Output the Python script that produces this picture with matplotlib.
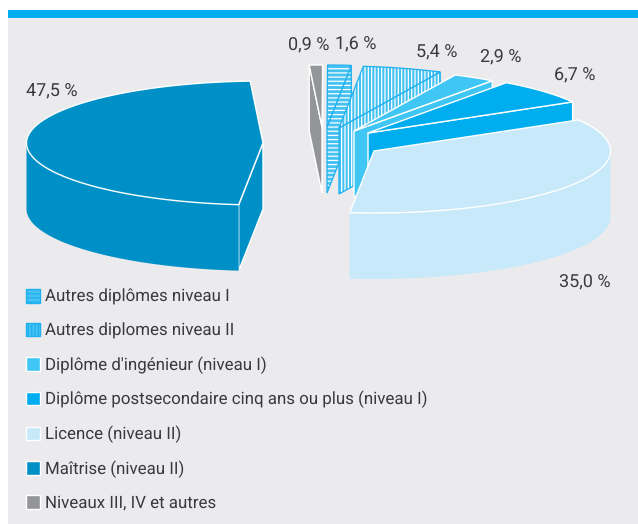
import numpy as np
import matplotlib
matplotlib.use('Agg')
import matplotlib.pyplot as plt
from matplotlib.patches import Polygon, Patch, Rectangle

# data, in pie order (anticlockwise from the top of the big slice)
categories = ['Maîtrise (niveau II)', 'Licence (niveau II)',
              'Diplôme postsecondaire cinq ans ou plus (niveau I)',
              "Diplôme d'ingénieur (niveau I)", 'Autres diplomes niveau II',
              'Autres diplômes niveau I', 'Niveaux III, IV et autres']
values = [47.5, 35.0, 6.7, 2.9, 5.4, 1.6, 0.9]
value_labels = ['47,5 %', '35,0 %', '6,7 %', '2,9 %', '5,4 %', '1,6 %', '0,9 %']
legend_order = [5, 4, 3, 2, 1, 0, 6]

# styles and layout, in pixels
colors = ['#0090C8', '#C7E9FA', '#00AEEF', '#40C6F4', '#45C1F2', '#45C1F2', '#939598']
hatches = [None, None, None, None, '|||||', '----', None]
pie_centre = (320, 135)
explode = [(-57, 8), (54, 16), (48, -2), (34, -4), (19, -7), (7, -8), (2, -8)]
label_pos = [(26, 96), (559, 287), (554, 80), (480, 62), (416, 57), (335, 49), (288, 50)]
rx, ry, depth = 236.5, 62, 66
start_angle = 93.1
blue_line = '#1FB0EE'
text_color = '#3A3A3C'

plt.rcParams['font.family'] = ['Roboto', 'DejaVu Sans']
plt.rcParams['hatch.linewidth'] = 0.9
plt.rcParams['text.hinting'] = 'none'

fig = plt.figure(figsize=(6.38, 5.24), dpi=100)
ax = fig.add_axes([0, 0, 1, 1])
ax.set_xlim(0, 638)
ax.set_ylim(524, 0)
ax.axis('off')

ax.add_patch(Rectangle((8, 17), 630, 507, color='#EBEBED', lw=0))
ax.add_patch(Rectangle((8, 10), 630, 7.5, color='#00AEEF', lw=0))


def point(c, t):
    a = np.radians(t)
    return c[0] + rx * np.cos(a), c[1] - ry * np.sin(a)


def face(pts, i, z):
    # fill with hatch, then the outline on top so the hatch stays inside it
    if hatches[i]:
        ax.add_patch(Polygon(pts, facecolor=colors[i], edgecolor='white', hatch=hatches[i], lw=0, zorder=z))
        ax.add_patch(Polygon(pts, fill=False, edgecolor=blue_line, lw=0.9, joinstyle='miter', zorder=z))
    else:
        ax.add_patch(Polygon(pts, facecolor=colors[i], edgecolor='white', lw=1.0, joinstyle='miter', zorder=z))


def down(pts):
    return [(x, y + depth) for x, y in pts]


# angles from the values, back slices first so front ones cover them
spans = np.array(values) / sum(values) * 360
starts = start_angle + np.concatenate([[0], np.cumsum(spans)[:-1]])
for z, i in enumerate([6, 5, 4, 3, 2, 1, 0]):
    t0, t1 = starts[i], starts[i] + spans[i]
    c = (pie_centre[0] + explode[i][0], pie_centre[1] + explode[i][1])
    z = z * 10 + 2
    if np.cos(np.radians(t0)) > 0:
        e = [c, point(c, t0)]
        face(e + down(e)[::-1], i, z)
    if np.cos(np.radians(t1)) < 0:
        e = [c, point(c, t1)]
        face(e + down(e)[::-1], i, z)
    # outer wall, only the part that faces the viewer
    w0, w1 = max(t0, 180), min(t1, 360)
    if w1 > w0:
        arc = [point(c, t) for t in np.linspace(w0, w1, 80)]
        ax.add_patch(Polygon(arc + down(arc)[::-1], facecolor=colors[i], edgecolor='none', zorder=z + 1))
    arc = [point(c, t) for t in np.linspace(t0, t1, 80)]
    face([c] + arc, i, z + 2)

for lab, pos in zip(value_labels, label_pos):
    ax.text(pos[0], pos[1], lab, fontsize=13, color=text_color, ha='left', va='baseline', zorder=100)

handles = [Patch(facecolor=colors[i], edgecolor=blue_line if hatches[i] else 'white',
                 hatch=hatches[i], lw=1.0) for i in legend_order]
leg = ax.legend(handles, [categories[i] for i in legend_order], loc='upper left',
                bbox_to_anchor=(26 / 638, 1 - 289 / 524), frameon=False, fontsize=12.2,
                handlelength=0.85, handleheight=0.85, handletextpad=0.28,
                labelspacing=1.02, borderpad=0, borderaxespad=0, labelcolor=text_color)
leg.set_zorder(100)

fig.savefig('out.png', dpi=100)
